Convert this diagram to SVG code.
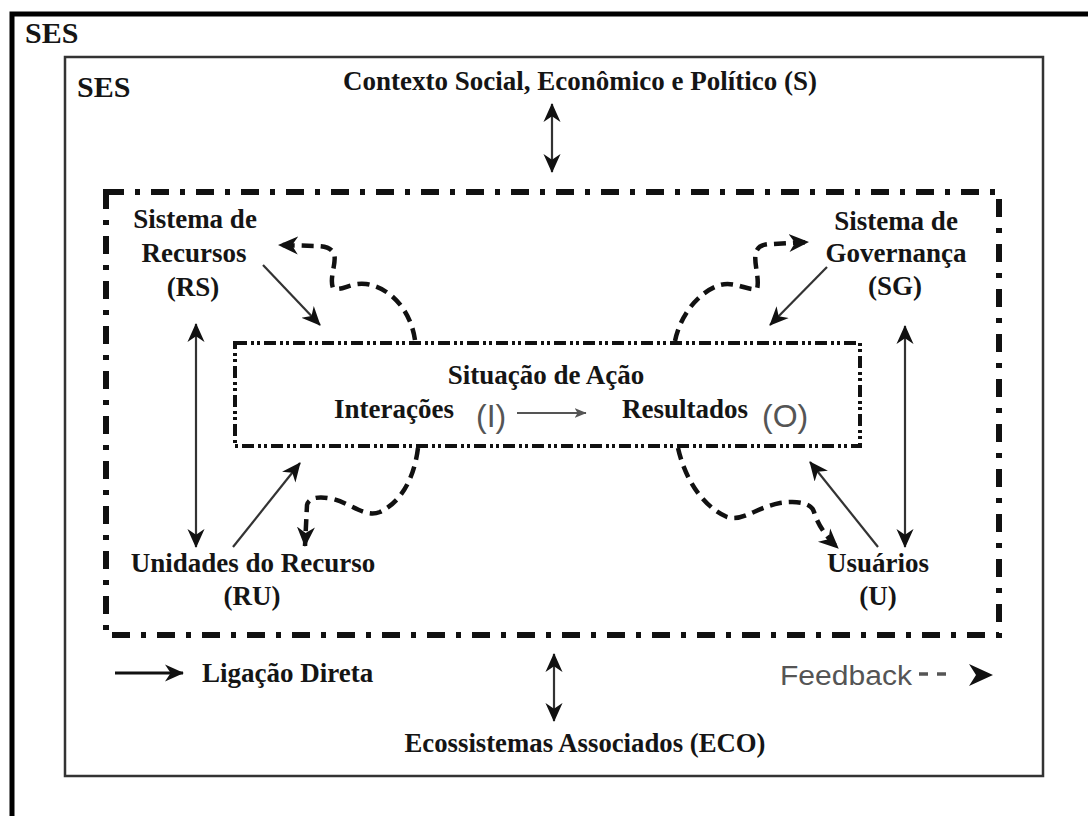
<svg xmlns="http://www.w3.org/2000/svg" width="1088" height="816" viewBox="0 0 1088 816">
<style>
.lbl{font-family:"Liberation Serif","Times New Roman",serif;font-weight:bold;font-size:27px;fill:#151515;text-anchor:middle}
.ses{font-family:"Liberation Serif","Times New Roman",serif;font-weight:bold;font-size:30px;fill:#151515}
.sans{font-family:"Liberation Sans",Arial,sans-serif;fill:#555}
.direct{fill:none;stroke:#333;stroke-width:2.2}
.fb{fill:none;stroke:#111;stroke-width:4.5;stroke-dasharray:12 7}
</style>
<defs>
<marker id="ah" viewBox="0 0 20 20" markerWidth="19" markerHeight="19" refX="19" refY="10" orient="auto-start-reverse" markerUnits="userSpaceOnUse">
<path d="M0,1 L20,10 L0,19 L6,10 z" fill="#111"/>
</marker>
<marker id="ahf" viewBox="0 0 20 20" markerWidth="20" markerHeight="20" refX="19" refY="10" orient="auto" markerUnits="userSpaceOnUse">
<path d="M0,1 L20,10 L0,19 L6,10 z" fill="#111"/>
</marker>
<marker id="ahs" viewBox="0 0 20 20" markerWidth="12" markerHeight="12" refX="19" refY="10" orient="auto" markerUnits="userSpaceOnUse">
<path d="M0,2 L20,10 L0,18 L5,10 z" fill="#555"/>
</marker>
</defs>
<rect width="1088" height="816" fill="#fff"/>

<g id="frame-outer">
<path d="M12,816 V14 H1088" fill="none" stroke="#000" stroke-width="5"/>
<text class="ses" x="25" y="43">SES</text>
</g>
<g id="frame-inner">
<rect x="65" y="57" width="978" height="719" fill="none" stroke="#333" stroke-width="2.5"/>
<text class="ses" x="77" y="97">SES</text>
</g>

<g id="context">
<text class="lbl" x="580" y="90" textLength="474" lengthAdjust="spacingAndGlyphs">Contexto Social, Econômico e Político (S)</text>
</g>

<g id="ses-core">
<rect x="106" y="192" width="893" height="443" fill="none" stroke="#111" stroke-width="6" stroke-dasharray="18 11 5 11"/>
</g>

<g id="action-situation">
<rect x="235" y="343" width="625" height="103" fill="none" stroke="#111" stroke-width="4" stroke-dasharray="12 4 3 3 3 4"/>
<text class="lbl" x="546" y="384">Situação de Ação</text>
<text class="lbl" x="334" y="418" style="text-anchor:start">Interações</text>
<text class="sans" x="476" y="427" style="font-size:32px">(I)</text>
<text class="lbl" x="622" y="418" style="text-anchor:start">Resultados</text>
<text class="sans" x="762" y="427" style="font-size:32px">(O)</text>
<line x1="517" y1="413" x2="586" y2="413" stroke="#555" stroke-width="2" marker-end="url(#ahs)"/>
</g>

<g id="RS">
<text class="lbl" x="195" y="228">Sistema de</text>
<text class="lbl" x="194" y="262">Recursos</text>
<text class="lbl" x="193" y="296">(RS)</text>
</g>
<g id="SG">
<text class="lbl" x="896" y="230">Sistema de</text>
<text class="lbl" x="896" y="262">Governança</text>
<text class="lbl" x="895" y="295">(SG)</text>
</g>
<g id="RU">
<text class="lbl" x="253" y="572">Unidades do Recurso</text>
<text class="lbl" x="252" y="605">(RU)</text>
</g>
<g id="U">
<text class="lbl" x="878" y="572">Usuários</text>
<text class="lbl" x="878" y="605">(U)</text>
</g>
<g id="ECO">
<text class="lbl" x="585" y="752" textLength="361" lengthAdjust="spacingAndGlyphs">Ecossistemas Associados (ECO)</text>
</g>

<g id="legend">
<line x1="115" y1="673" x2="183" y2="673" stroke="#111" stroke-width="3" marker-end="url(#ah)"/>
<text class="lbl" x="202" y="682" style="text-anchor:start">Ligação Direta</text>
<text class="sans" x="780" y="685" style="font-size:27px" textLength="132" lengthAdjust="spacingAndGlyphs">Feedback</text>
<line x1="919" y1="674" x2="928" y2="674" stroke="#555" stroke-width="3.5"/>
<line x1="937" y1="674" x2="946" y2="674" stroke="#555" stroke-width="3.5"/>
<path d="M969,664 L993,675 L969,686 L976,675 z" fill="#111"/>
</g>

<g id="connectors">
<line class="direct" x1="552" y1="104" x2="552" y2="172" marker-start="url(#ah)" marker-end="url(#ah)"/>
<line class="direct" x1="554" y1="654" x2="554" y2="721" marker-start="url(#ah)" marker-end="url(#ah)"/>
<line class="direct" x1="196" y1="324" x2="196" y2="547" marker-start="url(#ah)" marker-end="url(#ah)"/>
<line class="direct" x1="905" y1="326" x2="905" y2="547" marker-start="url(#ah)" marker-end="url(#ah)"/>
<line class="direct" x1="263" y1="265" x2="320" y2="325" marker-end="url(#ah)"/>
<line class="direct" x1="827" y1="267" x2="770" y2="325" marker-end="url(#ah)"/>
<line class="direct" x1="233" y1="547" x2="300" y2="463" marker-end="url(#ah)"/>
<line class="direct" x1="878" y1="547" x2="810" y2="462" marker-end="url(#ah)"/>

<path class="fb" d="M415,340 C411,312 392,288 366,284 C350,282 342,292 333,288 C329,278 337,262 334,254 C331,247 324,246 316,246 L279,245" marker-end="url(#ahf)"/>
<path class="fb" d="M675,341 C680,316 698,292 720,285 C735,281 748,291 757,289 C760,278 753,262 756,252 C758,246 764,244 772,244 L808,242" marker-end="url(#ahf)"/>
<path class="fb" d="M418,448 C415,472 405,500 380,512 C365,518 352,504 333,499 C320,496 309,497 307,505 L305,546" marker-end="url(#ahf)"/>
<path class="fb" d="M678,448 C684,475 700,505 727,517 C742,522 755,508 780,503 C800,500 812,504 814,512 C817,522 824,535 838,548" marker-end="url(#ahf)"/>
</g>
</svg>
